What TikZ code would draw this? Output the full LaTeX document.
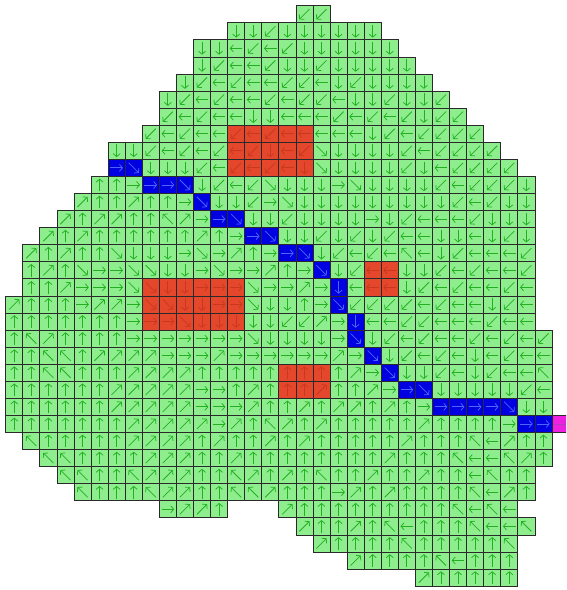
\documentclass[tikz,border=0pt]{standalone}
\usetikzlibrary{arrows.meta}
\definecolor{gfill}{HTML}{8EEE8E}
\definecolor{garr}{HTML}{22B022}
\definecolor{rfill}{HTML}{E4472B}
\definecolor{rarr}{HTML}{C8381E}
\definecolor{bfill}{HTML}{0000E0}
\definecolor{barr}{HTML}{4A66FF}
\definecolor{mfill}{HTML}{F020E0}
\definecolor{marr}{HTML}{B040C0}
\definecolor{cellline}{HTML}{2A2A2A}
\def\csz{17.07}
\def\org{5.7}
\newcommand\markcell[3]{\expandafter\gdef\csname cf@#1@#2\endcsname{#3}}
\newcommand\drawcell[3]{%
  \ifcsname cf@#1@#2\endcsname\edef\fc{\csname cf@#1@#2\endcsname}\else\def\fc{g}\fi
  \pgfmathsetmacro\xa{\org+\csz*#2}%
  \pgfmathsetmacro\ya{\org+\csz*#1}%
  \pgfmathsetmacro\xm{\xa+\csz/2}%
  \pgfmathsetmacro\ym{\ya+\csz/2}%
  \ifcase#3\relax\def\dx{0}\def\dy{0}%
  \or\def\dx{-1}\def\dy{1}%
  \or\def\dx{0}\def\dy{1}%
  \or\def\dx{1}\def\dy{1}%
  \or\def\dx{-1}\def\dy{0}%
  \or\def\dx{0}\def\dy{0}%
  \or\def\dx{1}\def\dy{0}%
  \or\def\dx{-1}\def\dy{-1}%
  \or\def\dx{0}\def\dy{-1}%
  \or\def\dx{1}\def\dy{-1}\fi
  \pgfmathsetmacro\hlen{(\dx*\dy==0)?6.3:5.1}%
  \fill[fill=\fc fill] (\xa,\ya) rectangle ++(\csz,\csz);
  \draw[arrowline,draw=\fc arr] ({\xm-\dx*\hlen},{\ym-\dy*\hlen}) -- ({\xm+\dx*\hlen},{\ym+\dy*\hlen});
  \draw[cellborder] (\xa,\ya) rectangle ++(\csz,\csz);
}
\newcommand\gridrow[3]{%
  \foreach \d [count=\k from 0] in {#3}{%
    \pgfmathtruncatemacro\cc{#2+\k}%
    \drawcell{#1}{\cc}{\d}}}
\tikzset{
  arrowline/.style={line width=0.75pt,-{Straight Barb[length=3pt,width=7pt]}},
  cellborder/.style={draw=cellline,line width=0.7pt}
}
\begin{document}
\begin{tikzpicture}[x=1pt,y=-1pt]
\clip (0,0) rectangle (566,590);
% special cells
\foreach \r in {7,8,9}{\foreach \c in {13,...,17}{\markcell{\r}{\c}{r}}}
\foreach \r in {16,17,18}{\foreach \c in {8,...,13}{\markcell{\r}{\c}{r}}}
\foreach \r in {15,16}{\foreach \c in {21,22}{\markcell{\r}{\c}{r}}}
\foreach \r in {21,22}{\foreach \c in {16,17,18}{\markcell{\r}{\c}{r}}}
\foreach \r/\c in {9/6,9/7,10/8,10/9,10/10,11/11,12/12,12/13,13/14,13/15,14/16,14/17,15/18,16/19,17/19,18/20,19/20,20/21,21/22,22/23,22/24,23/25,23/26,23/27,23/28,23/29,24/30,24/31}{\markcell{\r}{\c}{b}}
\markcell{24}{32}{m}
% rows
\gridrow{0}{17}{1,1}
\gridrow{1}{13}{2,2,1,2,2,2,2,2,2}
\gridrow{2}{11}{2,2,4,1,4,1,2,2,2,2,2,2}
\gridrow{3}{11}{2,1,4,4,1,2,2,1,2,2,2,2,2}
\gridrow{4}{10}{2,1,4,1,4,4,1,1,4,2,1,2,2,2,2}
\gridrow{5}{9}{2,1,4,1,4,4,1,4,1,1,4,2,2,1,2,2,1}
\gridrow{6}{9}{1,4,1,4,4,2,2,4,4,4,1,4,1,4,1,2,1,1}
\gridrow{7}{8}{1,4,1,4,4,1,4,1,4,4,4,4,4,2,1,4,1,1,1,1}
\gridrow{8}{6}{2,2,1,4,1,4,1,4,1,2,4,1,3,2,2,2,2,1,4,1,1,1,1}
\gridrow{9}{6}{6,3,2,2,2,1,4,1,4,1,4,2,3,2,2,2,2,1,2,4,1,1,1,1}
\gridrow{10}{5}{8,8,6,6,6,3,2,1,4,1,3,2,2,2,6,3,2,2,2,2,1,4,1,1,1,2}
\gridrow{11}{4}{9,8,8,9,8,8,6,3,2,2,1,6,3,2,2,2,2,2,2,2,2,2,1,4,1,2,2}
\gridrow{12}{3}{9,8,9,9,8,8,7,9,6,6,3,2,2,1,2,2,2,2,6,2,1,4,4,4,1,2,2,2}
\gridrow{13}{2}{9,8,9,8,8,8,8,8,8,9,8,6,6,3,2,2,1,2,1,2,1,4,4,2,2,4,2,1,2}
\gridrow{14}{1}{9,8,9,8,8,3,2,2,2,6,3,6,9,8,6,6,3,2,1,4,1,4,7,4,2,1,4,4,4,1}
\gridrow{15}{1}{8,9,8,3,6,6,3,3,2,2,6,3,6,6,9,8,6,3,2,1,4,4,2,2,1,4,1,4,4,1}
\gridrow{16}{1}{8,8,9,6,6,6,3,3,2,2,6,6,6,3,6,6,9,6,2,4,4,4,2,1,4,1,4,4,1,4}
\gridrow{17}{0}{9,8,8,8,6,9,9,6,3,3,2,2,6,6,3,2,2,8,6,3,1,1,1,1,4,1,4,4,2,1,4}
\gridrow{18}{0}{8,8,8,8,8,8,8,6,6,6,3,2,2,2,2,2,1,1,9,6,2,4,4,1,1,4,4,4,1,4,4}
\gridrow{19}{0}{8,7,9,8,8,8,8,6,6,6,6,6,6,6,3,2,2,2,2,6,3,2,1,4,1,4,4,1,4,1,4,1}
\gridrow{20}{0}{8,8,7,7,8,9,9,9,9,6,6,6,9,6,6,6,6,6,6,9,6,3,2,1,4,1,4,2,4,1,4,4}
\gridrow{21}{0}{8,8,7,7,8,8,8,9,9,9,9,8,8,8,8,8,8,8,8,8,9,6,3,2,2,1,4,2,1,4,4,7}
\gridrow{22}{0}{8,8,8,8,8,8,9,9,9,9,9,6,6,8,9,8,8,8,9,8,8,9,6,6,3,2,2,2,2,2,1,4}
\gridrow{23}{0}{8,8,8,8,8,8,9,9,9,9,9,6,6,6,9,8,8,9,8,9,9,8,9,8,6,6,6,6,6,3,2,2}
\gridrow{24}{0}{8,8,8,8,8,8,8,9,9,9,9,9,6,9,8,7,9,8,9,8,8,8,8,8,9,8,8,8,8,6,6,6,6}
\gridrow{25}{1}{7,8,8,8,8,8,9,9,9,9,8,9,8,8,9,8,9,8,8,8,8,8,9,8,8,8,7,4,9,8,8}
\gridrow{26}{2}{7,7,8,8,8,8,9,9,9,8,8,9,8,8,8,8,8,8,8,8,9,8,8,8,7,4,4,7,9,8}
\gridrow{27}{3}{7,7,8,8,7,9,9,9,8,8,7,9,8,9,8,7,8,8,9,8,8,9,8,8,4,7,8,8}
\gridrow{28}{4}{7,8,8,8,7,9,9,8,8,7,7,9,8,8,8,6,9,8,9,8,8,8,8,7,4,9,8}
\gridrow{29}{9}{6,9,9,8}
\gridrow{29}{16}{9,8,8,8,8,8,8,8,8,8,7,4,7,4}
\gridrow{30}{17}{9,8,8,9,8,7,4,8,8,8,7,4,4,7}
\gridrow{31}{18}{9,8,8,8,8,7,8,8,8,8,8,7}
\gridrow{32}{20}{9,8,8,8,8,7,4,8,8,8}
\gridrow{33}{24}{9,8,8,8,8,8}
\end{tikzpicture}
\end{document}
